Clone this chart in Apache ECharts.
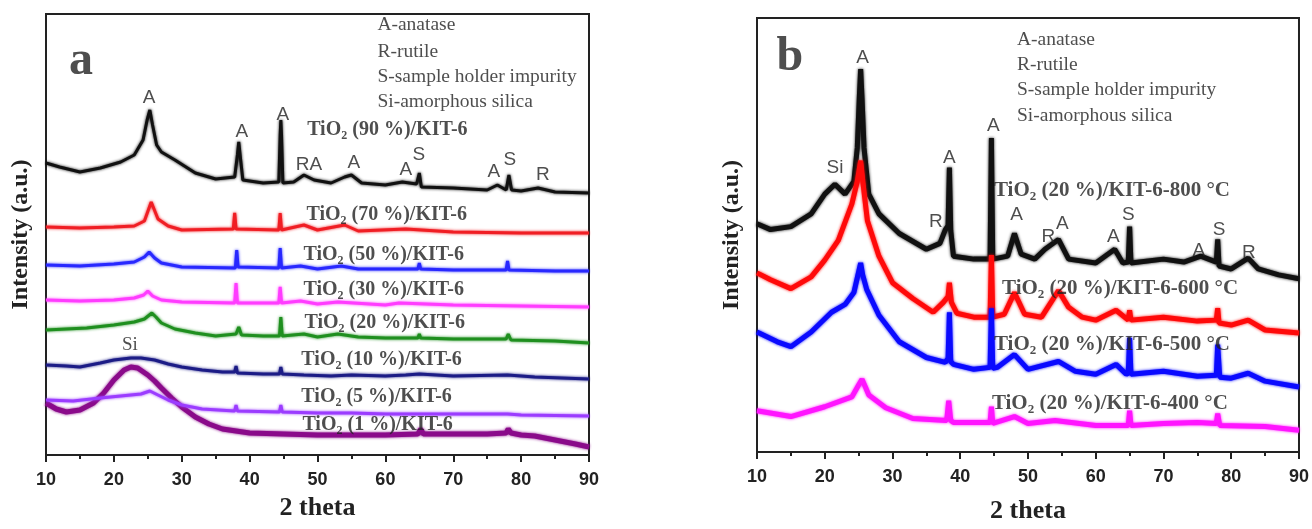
<!DOCTYPE html>
<html>
<head>
<meta charset="utf-8">
<script src="https://cdn.jsdelivr.net/npm/echarts@6/dist/echarts.min.js"></script>
<style>
html,body{margin:0;padding:0;background:#fff;}
#chart{width:1312px;height:529px;}
</style>
</head>
<body>
<div id="chart"></div>
<script>
// ---------- Panel a : TiO2 (x %)/KIT-6  [2theta, intensity a.u.] ----------
const a90 = [[10,292],[12,288],[15,283],[18,287],[21,293],[23,300],[24.3,315],[24.9,335],[25.3,345],[25.7,330],[26.3,310],[27,303],[29,295],[32,282],[35,276],[37.8,278],[38.2,300],[38.4,313],[38.6,300],[39,275],[42,272],[44.3,273],[44.5,320],[44.6,335],[44.7,320],[44.9,272],[46.5,273],[48,280],[49.5,275],[52,272],[54,278],[55,280],[56.5,272],[60,270],[62.5,273],[64.6,271],[65,282],[65.3,268],[70,267],[75,265],[76.5,270],[77.8,265],[78.2,280],[78.6,265],[80,264],[82.5,267],[85,263],[90,262]];
const a70 = [[10,228],[15,227],[20,228],[23,229],[24.5,234],[25.5,253],[26.5,236],[28,229],[30,225],[37.6,226],[37.8,242],[38,226],[44.3,225],[44.5,242],[44.7,225],[48,230],[50,225],[54,230],[56,224],[63,226],[70,223],[80,222],[90,222]];
const a50 = [[10,190],[15,189],[20,191],[23,193],[24.5,198],[25.2,203],[26,197],[27,192],[30,188],[37.9,187],[38.1,205],[38.3,188],[44.3,187],[44.5,207],[44.7,187],[47.5,189],[50,186],[53.5,189],[56,186],[64.8,186],[65,192],[65.2,186],[70,185],[77.8,185],[78,194],[78.2,185],[85,184],[90,184]];
const a30 = [[10,155],[15,154],[20,155],[23,157],[24.4,160],[25,164],[25.7,159],[27,155],[30,153],[37.8,152],[38,172],[38.2,152],[44.3,152],[44.5,168],[44.7,152],[47.5,154],[50,151],[53,153],[60,150],[62,152],[70,150],[80,149],[90,148]];
const a20 = [[10,125],[13,126],[16,127],[20,130],[23,133],[24.5,136],[25.6,142],[26.2,138],[27,132],[29,126],[32,122],[35,119],[38,121],[38.4,128],[38.8,120],[42,119],[44.4,119],[44.6,138],[44.8,119],[48,121],[50,118],[53,121],[56,118],[60,117],[64.8,117],[65,121],[65.2,117],[70,116],[77.8,116],[78.1,121],[78.5,115],[85,114],[90,112]];
const a10 = [[10,90],[13,89],[15,88],[18,92],[20,95],[22.5,97],[24,97],[26,95],[28,91],[30,88],[33,85],[36,83],[37.8,83],[38,89],[38.2,82],[42,81],[44.4,81],[44.6,88],[44.8,81],[48,80],[52,79],[55,80],[60,79],[63,80],[65,81],[70,79],[78,80],[82,78],[86,77],[90,76]];
const a5 = [[10,55],[14,54],[18,57],[21,59],[24,61],[25.3,64],[26.5,60],[28,55],[30,50],[33,46],[37.8,44],[38,50],[38.2,44],[44.4,43],[44.6,50],[44.8,43],[50,42],[55,42],[60,41],[65,41],[70,41],[78,41],[80,40],[90,39]];
const a1 = [[10,52],[11.5,46],[13,43],[15,45],[17,52],[18.5,62],[20,75],[21.5,85],[22.5,88],[23.5,87],[25,80],[26,74],[27,67],[28.5,57],[30,48],[32,38],[34,31],[36,26],[38,24],[40,22],[45,21],[50,20],[55,20],[60,20],[64.8,21],[65.2,26],[65.6,21],[70,21],[75,21],[77.8,22],[78.1,26],[78.5,22],[80,20],[82,19],[85,15],[88,11],[90,8]];

// ---------- Panel b : TiO2 (20 %)/KIT-6 at calcination temperatures ----------
const b800 = [[10,232],[12,226],[15,229],[18,242],[20,262],[21.5,272],[23,262],[24.3,275],[24.8,309],[25.1,360],[25.3,389],[25.5,360],[25.8,309],[26.5,262],[28,242],[31,222],[35,206],[37,212],[37.8,226],[38.2,230],[38.4,289],[38.6,225],[39,199],[42,196],[44.4,196],[44.6,319],[44.8,196],[47,199],[48,222],[49,201],[51,196],[52.5,206],[54.5,216],[56,196],[60,192],[62.8,206],[64,192],[64.8,193],[65,229],[65.2,192],[70,196],[73,193],[75.5,199],[77.8,193],[78,216],[78.2,189],[80,186],[82.5,197],[84,186],[87,180],[90,176]];
const b600 = [[10,182],[12,175],[15,166],[18,178],[20,195],[22,215],[24,252],[24.8,275],[25.3,296],[25.7,270],[26.3,235],[28,199],[30,172],[33,156],[36,142],[37.5,152],[38.2,158],[38.4,172],[38.7,152],[39.5,141],[42,137],[44.4,137],[44.6,200],[44.8,137],[46.5,140],[48,162],[49.5,140],[52,137],[54.5,164],[56,147],[58,137],[60,134],[63,144],[64.8,134],[65,144],[65.2,134],[70,137],[75,133],[77.8,134],[78,146],[78.2,131],[80,129],[82.5,134],[85,124],[90,121]];
const b500 = [[10,122],[13,112],[15,107],[18,122],[21,142],[23,150],[24.3,162],[24.9,180],[25.3,192],[25.6,180],[26.2,165],[28,139],[31,112],[35,96],[37.8,91],[38.2,95],[38.4,142],[38.6,92],[39,89],[42,84],[44.4,86],[44.6,146],[44.8,85],[45.5,86],[48,99],[50,84],[54.5,92],[57,82],[60,79],[63,89],[64.5,79],[64.8,80],[65,116],[65.2,79],[70,82],[75,77],[77.8,78],[78,109],[78.3,76],[80,75],[82.5,80],[85,72],[90,66]];
const b400 = [[10,42],[15,36],[20,46],[24,56],[25,68],[25.5,74],[26,66],[26.5,58],[29,45],[33,34],[38,32],[38.3,52],[38.6,32],[39,30],[44.4,30],[44.6,46],[44.8,29],[48,36],[50,29],[54,32],[60,27],[64.8,27],[65,42],[65.2,27],[70,29],[75,30],[77.8,29],[78,39],[78.3,27],[85,26],[90,22]];

// ---------- axis ticks ----------
const xMin = 10, xMax = 90, xStep = 10;

// ---------- annotations [2theta, intensity, text] ----------
const aPanel = [[15.15,393,'a']];
const aLegend = [[58.75,430,'A-anatase'],[58.75,403,'R-rutile'],[58.75,378,'S-sample holder impurity'],[58.75,353,'Si-amorphous silica']];
const aPeaks = [[25.17,357,'A'],[38.87,323,'A'],[44.9,340,'A'],[48.73,290,'RA'],[55.36,292,'A'],[63.0,285,'A'],[64.93,300,'S'],[75.98,283,'A'],[78.34,295,'S'],[83.2,280,'R']];
const aSi = [[22.37,110,'Si']];
const aNames = [[48.4,325,'TiO{s|2} (90 %)/KIT-6'],[48.3,240,'TiO{s|2} (70 %)/KIT-6'],[47.85,200,'TiO{s|2} (50 %)/KIT-6'],[47.85,165,'TiO{s|2} (30 %)/KIT-6'],[48.0,132,'TiO{s|2} (20 %)/KIT-6'],[47.55,95,'TiO{s|2} (10 %)/KIT-6'],[47.55,58,'TiO{s|2} (5 %)/KIT-6'],[47.7,30,'TiO{s|2} (1 %)/KIT-6']];

const bPanel = [[14.86,401,'b']];
const bLegend = [[48.3,419,'A-anatase'],[48.3,393,'R-rutile'],[48.3,368,'S-sample holder impurity'],[48.3,342,'Si-amorphous silica']];
const bPeaks = [[25.6,401,'A'],[21.5,289,'Si'],[38.4,299,'A'],[44.9,331,'A'],[36.4,234,'R'],[48.3,241,'A'],[53.0,219,'R'],[55.07,232,'A'],[62.6,219,'A'],[64.8,241,'S'],[75.2,204,'A'],[78.2,226,'S'],[82.6,202,'R']];
const bNames = [[44.9,266,'TiO{s|2} (20 %)/KIT-6-800 °C'],[46.1,166,'TiO{s|2} (20 %)/KIT-6-600 °C'],[44.9,109,'TiO{s|2} (20 %)/KIT-6-500 °C'],[44.6,49,'TiO{s|2} (20 %)/KIT-6-400 °C']];

const SERIF = '"Liberation Serif","DejaVu Serif",serif';
const SANS = '"Liberation Sans","DejaVu Sans",sans-serif';
const INK = '#222';

function xAxisDef(idx, gap){
  return {
    type:'value', gridIndex:idx, min:xMin, max:xMax, interval:xStep,
    name:'2 theta', nameLocation:'middle', nameGap:gap,
    nameTextStyle:{fontFamily:SERIF, fontWeight:'bold', fontSize:26, color:INK},
    axisLine:{show:true, onZero:false, lineStyle:{color:INK, width:2}},
    axisTick:{show:true, length:7, lineStyle:{color:INK, width:2}},
    minorTick:{show:true, splitNumber:2, length:4, lineStyle:{color:INK, width:2}},
    axisLabel:{fontFamily:SANS, fontWeight:'bold', fontSize:18, color:INK, margin:16},
    splitLine:{show:false}
  };
}
function yAxisDef(idx){
  return {
    type:'value', gridIndex:idx, min:0, max:441,
    name:'Intensity (a.u.)', nameLocation:'middle', nameGap:13,
    nameTextStyle:{fontFamily:SERIF, fontWeight:'bold', fontSize:24, color:INK},
    axisLine:{show:true, lineStyle:{color:INK, width:2}},
    axisTick:{show:false}, axisLabel:{show:false}, splitLine:{show:false}
  };
}
function lineS(idx, data, color, width){
  return {type:'line', xAxisIndex:idx, yAxisIndex:idx, data:data, showSymbol:false, symbol:'none',
    lineStyle:{color:color, width:width, shadowColor:color, shadowBlur:3}, silent:true, z:2};
}
function textS(idx, data, font, size, weight, pos){
  return {type:'scatter', xAxisIndex:idx, yAxisIndex:idx, data:data, symbolSize:1,
    itemStyle:{color:'rgba(0,0,0,0)'}, silent:true, z:5,
    label:{show:true, position:pos, distance:0, formatter:p=>p.data[2],
      fontFamily:font, fontSize:size, fontWeight:weight, color:INK,
      rich:{s:{fontFamily:font, fontSize:Math.round(size*0.6), fontWeight:weight, color:INK, padding:[Math.round(size*0.55),0,0,0]}}}};
}

const chart = echarts.init(document.getElementById('chart'), null, {renderer:'canvas'});
chart.setOption({
  animation:false,
  backgroundColor:'#fff',
  grid:[
    {left:46, top:14, width:543, height:441, show:true, borderColor:INK, borderWidth:2, backgroundColor:'transparent'},
    {left:757, top:18, width:543, height:441, show:true, borderColor:INK, borderWidth:2, backgroundColor:'transparent'}
  ],
  xAxis:[xAxisDef(0,40), xAxisDef(1,46)],
  yAxis:[yAxisDef(0), yAxisDef(1)],
  series:[
    lineS(0,a1,'#8a0a8a',5),
    lineS(0,a5,'#9b3cff',3),
    lineS(0,a10,'#1c1c86',3),
    lineS(0,a20,'#1f8f1f',3),
    lineS(0,a30,'#ff3cff',3),
    lineS(0,a50,'#2828ff',3),
    lineS(0,a70,'#f01e24',3),
    lineS(0,a90,'#111111',3),
    lineS(1,b800,'#111111',5),
    lineS(1,b600,'#ff0a0a',5),
    lineS(1,b500,'#0a0aff',5),
    lineS(1,b400,'#ff14ff',5),
    textS(0,aPanel,SERIF,48,'bold','inside'),
    textS(0,aLegend,SERIF,19.5,'normal','right'),
    textS(0,aPeaks,SANS,19,'normal','inside'),
    textS(0,aSi,SERIF,19,'normal','inside'),
    textS(0,aNames,SERIF,20,'bold','right'),
    textS(1,bPanel,SERIF,48,'bold','inside'),
    textS(1,bLegend,SERIF,19.5,'normal','right'),
    textS(1,bPeaks,SANS,19,'normal','inside'),
    textS(1,bNames,SERIF,21,'bold','right')
  ]
});
</script>
</body>
</html>
